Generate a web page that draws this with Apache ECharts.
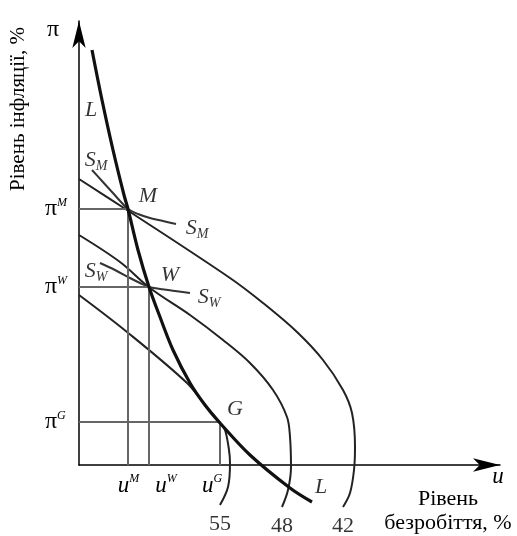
<!DOCTYPE html>
<html>
<head>
<meta charset="utf-8">
<style>
  html, body { margin: 0; padding: 0; background: #fff; }
  #main { width: 517px; height: 536px; }
</style>
<script src="https://cdn.jsdelivr.net/npm/echarts@6/dist/echarts.min.js"></script>
</head>
<body>
<div id="main"></div>
<script>
// schematic units: u grows to the right, π grows upwards, origin at the axes corner

// long-run curve L
var curveL = [[13, 415], [23, 365], [34, 315], [45, 270], [49, 256], [59, 215], [70, 178], [81, 148],
  [94, 115], [111, 82], [126, 60], [141, 42], [171, 10], [211, -23], [233, -37]];
// short-run curves through M and W
var curveSM = [[13, 295], [23, 284], [33, 273], [42, 263], [49, 256], [59, 251], [71, 247], [84, 244], [97, 241]];
var curveSW = [[21, 202], [36, 195], [51, 187], [61, 182], [70, 178], [81, 176], [96, 174], [111, 172]];
// level curves 42, 48, 55
var curve42 = [[0, 286], [48, 255], [151, 187], [184, 162], [218, 133], [244, 105], [264, 75], [273, 52],
  [276, 18], [275, -5], [271, -28], [264, -42]];
var curve48 = [[0, 230], [41, 203], [71, 177], [111, 150], [144, 125], [171, 102], [194, 75], [208, 48],
  [211, 28], [212, -2], [209, -25], [203, -42]];
var curve55 = [[0, 170], [48, 133], [108, 82], [126, 60], [141, 42], [146, 35], [150, 15], [151, 2],
  [149, -22], [141, -40]];
var levels = ['55', '48', '42'];

// equilibrium points
var pointNames = ['M', 'W', 'G'];
var pointU = [49, 70, 141];
var pointPi = [256, 178, 43];

// axis tick labels
var piTicks = [256, 178, 43];
var piTickText = ['π^M', 'π^W', 'π^G'];
var uTicks = [49.5, 87, 133];
var uTickText = ['u^M', 'u^W', 'u^G'];

// curve / point letters
var noteText = ['L', 'S_M', 'M', 'S_M', 'S_W', 'W', 'S_W', 'G', 'L'];
var noteU = [12, 17, 69, 118, 17, 91, 130, 156, 242];
var notePi = [355, 305, 269, 237, 194, 190, 168, 56, -22];

var SERIF = '"Liberation Serif", "DejaVu Serif", serif';
var INK = '#000';

var chartDom = document.getElementById('main');
var myChart = echarts.init(chartDom);
var option;

function supText(s) {
  var p = s.split('^');
  return '{b|' + p[0] + '}{sup|' + p[1] + '}';
}
function noteRich(s) {
  var p = s.split('_');
  return p.length > 1 ? '{i|' + p[0] + '}{sub|' + p[1] + '}' : '{i|' + s + '}';
}

var curveSeries = function (data, width, color) {
  return {
    type: 'line',
    data: data,
    smooth: 0.35,
    showSymbol: false,
    clip: false,
    silent: true,
    lineStyle: { color: color, width: width }
  };
};

var series = [
  curveSeries(curve42, 2, '#222'),
  curveSeries(curve48, 2, '#222'),
  curveSeries(curve55, 2, '#222'),
  curveSeries(curveSM, 2, '#333'),
  curveSeries(curveSW, 2, '#333')
];

// guide lines from the π axis to each point and down to the u axis
pointNames.forEach(function (n, i) {
  series.push({
    type: 'line',
    data: [[0, pointPi[i]], [pointU[i], pointPi[i]], [pointU[i], 0]],
    showSymbol: false,
    silent: true,
    lineStyle: { color: '#666', width: 2 }
  });
});

series.push(curveSeries(curveL, 3.2, '#111'));

// level numbers under the end of each curve
series.push({
  type: 'scatter',
  symbolSize: 0,
  clip: false,
  silent: true,
  data: [curve55, curve48, curve42].map(function (c, i) {
    return { value: c[c.length - 1], name: levels[i] };
  }),
  label: {
    show: true,
    position: 'bottom',
    distance: 8,
    formatter: '{b}',
    fontFamily: SERIF,
    fontSize: 22,
    color: INK
  }
});

// letters
series.push({
  type: 'scatter',
  symbolSize: 0,
  clip: false,
  silent: true,
  data: noteText.map(function (t, i) {
    return { value: [noteU[i], notePi[i]], name: t };
  }),
  label: {
    show: true,
    position: 'inside',
    formatter: function (p) { return noteRich(p.name); },
    rich: {
      i: { fontFamily: SERIF, fontStyle: 'italic', fontSize: 22, color: INK, lineHeight: 27 },
      sub: { fontFamily: SERIF, fontStyle: 'italic', fontSize: 14, color: INK, verticalAlign: 'bottom' }
    }
  }
});

var supStyle = { fontFamily: SERIF, fontStyle: 'italic', fontSize: 12, color: INK, verticalAlign: 'top', lineHeight: 19 };

option = {
  animation: false,
  backgroundColor: '#fff',
  grid: { left: 79, top: 21, right: 17, bottom: 71 },
  xAxis: {
    type: 'value',
    min: 0,
    max: 421,
    name: 'u',
    nameLocation: 'end',
    nameGap: -2,
    nameTextStyle: {
      fontFamily: SERIF, fontStyle: 'italic', fontSize: 23, color: INK,
      align: 'center', verticalAlign: 'top', padding: [0, 0, 0, 0]
    },
    axisLine: { show: true, symbol: ['none', 'arrow'], symbolSize: [10, 27], lineStyle: { color: '#000', width: 1.5 } },
    axisTick: { show: false },
    splitLine: { show: false },
    axisLabel: {
      customValues: uTicks,
      margin: 8,
      formatter: function (v) { return supText(uTickText[uTicks.indexOf(v)]); },
      rich: {
        b: { fontFamily: SERIF, fontStyle: 'italic', fontSize: 23, color: INK, lineHeight: 25 },
        sup: supStyle
      }
    }
  },
  yAxis: {
    type: 'value',
    min: 0,
    max: 444,
    name: 'π',
    nameLocation: 'end',
    nameGap: -9,
    nameTextStyle: {
      fontFamily: SERIF, fontSize: 24, color: INK,
      align: 'right', verticalAlign: 'middle', padding: [0, 20, 0, 0]
    },
    axisLine: { show: true, symbol: ['none', 'arrow'], symbolSize: [10, 27], lineStyle: { color: '#000', width: 1.5 } },
    axisTick: { show: false },
    splitLine: { show: false },
    axisLabel: {
      customValues: piTicks,
      margin: 34,
      align: 'left',
      formatter: function (v) { return supText(piTickText[piTicks.indexOf(v)]); },
      rich: {
        b: { fontFamily: SERIF, fontSize: 24, color: INK, lineHeight: 25 },
        sup: supStyle
      }
    }
  },
  graphic: [
    {
      type: 'text',
      x: 18,
      y: 109,
      rotation: Math.PI / 2,
      style: {
        text: 'Рівень інфляції, %',
        fontFamily: SERIF,
        fontSize: 21,
        fill: INK,
        align: 'center',
        verticalAlign: 'middle'
      }
    },
    {
      type: 'text',
      x: 448,
      y: 511,
      style: {
        text: 'Рівень\nбезробіття, %',
        fontFamily: SERIF,
        fontSize: 22,
        lineHeight: 24,
        fill: INK,
        align: 'center',
        verticalAlign: 'middle'
      }
    }
  ],
  series: series
};

option && myChart.setOption(option);
</script>
</body>
</html>
